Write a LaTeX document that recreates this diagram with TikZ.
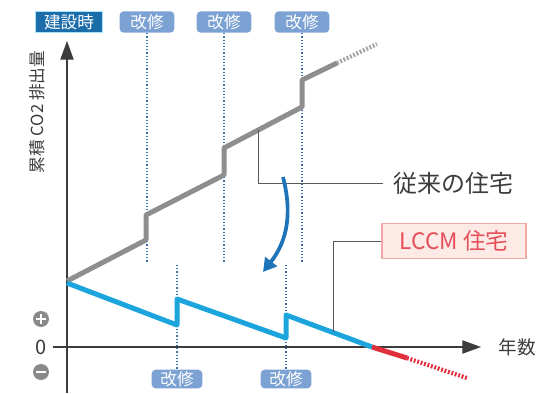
\documentclass[tikz,border=0pt]{standalone}
\usepackage{fontspec}
\setmainfont{Noto Sans CJK JP}
\usepackage{color}
\usepackage{tikz}
\usetikzlibrary{arrows.meta}
\definecolor{kenblue}{HTML}{1B6DAA}
\definecolor{kaiblue}{HTML}{7CA2D4}
\definecolor{dotblue}{HTML}{3B6FB0}
\definecolor{oldgray}{HTML}{8E8E8E}
\definecolor{newblue}{HTML}{1CA5DD}
\definecolor{newred}{HTML}{E0303C}
\definecolor{boxpink}{HTML}{FDE9E5}
\definecolor{boxline}{HTML}{F2A7A0}
\definecolor{arrblue}{HTML}{1E74B8}
\definecolor{axisgray}{HTML}{3C3C3C}
\definecolor{signgray}{HTML}{8A8A8A}
\tikzstyle{kenbox}=[fill=kenblue,draw=cyan!35,line width=0.8pt,text=white,inner sep=0pt,minimum width=50pt,minimum height=16pt,font=\fontsize{12.5}{13}\selectfont]
\tikzstyle{kaibox}=[fill=kaiblue,rounded corners=3pt,text=white,inner sep=0pt,minimum width=41pt,minimum height=16pt,font=\fontsize{12.5}{13}\selectfont]
\tikzstyle{dots}=[dotblue,line width=0.9pt,dash pattern=on 0.9pt off 1.5pt]
\tikzstyle{axis}=[axisgray,line width=0.8pt,-{Triangle[length=14pt,width=10pt]}]
\tikzstyle{sign}=[circle,fill=signgray,inner sep=0pt,minimum size=12pt]
\tikzstyle{signbar}=[white,line width=2.2pt]
\tikzstyle{texto}=[inner sep=0pt,text=axisgray,font=\fontsize{13}{13}\selectfont]
\tikzstyle{leader}=[axisgray!85,line width=0.7pt]
\tikzstyle{oldline}=[oldgray,line width=3.75pt,line join=round]
\tikzstyle{newline}=[newblue,line width=3.75pt,line join=round]

\begin{document}
\begin{tikzpicture}[x=0.75pt,y=-0.75pt,thick]
    \useasboundingbox (0,0) rectangle (543,393);
    % labels on top and bottom
    \node [kenbox] (ken) at (69,  22) {建設時};
    \node [kaibox] (k1) at (147,  22) {改修};
    \node [kaibox] (k2) at (224,  22) {改修};
    \node [kaibox] (k3) at (302,  22) {改修};
    \node [kaibox,minimum width=38pt,minimum height=14pt] (b1) at (177,  379) {改修};
    \node [kaibox,minimum width=38pt,minimum height=14pt] (b2) at (286,  379) {改修};
    \coordinate (k1end) at (147,  262);
    \coordinate (k2end) at (224,  262);
    \coordinate (k3end) at (302,  262);
    \coordinate (b1top) at (177,  265);
    \coordinate (b2top) at (286,  265);
    \draw [dots] (k1) -- (k1end);
    \draw [dots] (k2) -- (k2end);
    \draw [dots] (k3) -- (k3end);
    \draw [dots] (b1top) -- (b1);
    \draw [dots] (b2top) -- (b2);
    % axes
    \coordinate (xstart) at (53,  347);
    \coordinate (xend) at (481,  347);
    \coordinate (ystart) at (67,  393);
    \coordinate (yend) at (67,  41);
    \draw [axis] (xstart) -- (xend);
    \draw [axis] (ystart) -- (yend);
    \node [texto,rotate=90,font=\fontsize{12.5}{13}\selectfont] (ylab) at (37,  112) {累積 CO2 排出量};
    \node [texto,font=\fontsize{14}{14}\selectfont] (years) at (517,  347) {年数};
    \node [texto,font=\fontsize{15}{15}\selectfont] (zero) at (41,  347) {0};
    \node [sign] (plus) at (41,  319) {};
    \node [sign] (minus) at (41,  372) {};
    \draw [signbar] ([xshift=-3.6pt]plus.center) -- ([xshift=3.6pt]plus.center);
    \draw [signbar] ([yshift=-3.6pt]plus.center) -- ([yshift=3.6pt]plus.center);
    \draw [signbar] ([xshift=-3.6pt]minus.center) -- ([xshift=3.6pt]minus.center);
    % conventional house
    \draw [oldline] (67,  281) -- (146,  240) -- (146,  215) -- (224,  175) -- (224,  148)
        -- (302,  107) -- (302,  80) -- (337,  63);
    \draw [oldgray!80,line width=3.2pt,dash pattern=on 1.4pt off 1.3pt] (337,  63) -- (377,  44);
    % LCCM house
    \draw [newline] (67,  283) -- (177,  325) -- (177,  299) -- (286,  338) -- (286,  315) -- (372,  347);
    \draw [newred,line width=3.75pt] (372,  347) -- (407,  358);
    \draw [newred,line width=3.2pt,dash pattern=on 1.4pt off 1.3pt] (407,  358) -- (467,  378);
    % callouts
    \node [texto,inner sep=7pt,font=\fontsize{18}{18}\selectfont] (juurai) at (453,  183) {従来の住宅};
    \coordinate (oldpt) at (258,  130);
    \draw [leader] (oldpt) |- (juurai.west);
    \node [draw=boxline,fill=boxpink,text=newred!85,line width=0.8pt,minimum width=108pt,minimum height=26pt,font=\fontsize{17}{17}\selectfont] (lccm) at (454,  241) {LCCM 住宅};
    \coordinate (newpt) at (333,  332);
    \draw [leader] (newpt) |- (lccm.west);
    % reduction arrow
    \coordinate (arrs) at (283,  177);
    \coordinate (arre) at (263,  272);
    \draw [arrblue,line width=2.8pt,-{Triangle[length=10pt,width=11pt]}] (arrs) .. controls (292,  212) and (288,  240) .. (arre);
\end{tikzpicture}
\end{document}
